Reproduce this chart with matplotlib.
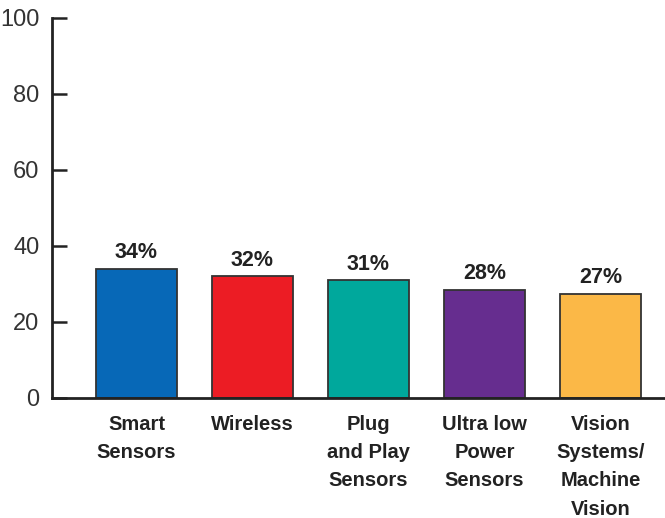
import numpy as np
import matplotlib.pyplot as plt

plt.rcParams['font.family'] = ['Liberation Sans', 'DejaVu Sans']

categories = ['Smart\nSensors', 'Wireless', 'Plug\nand Play\nSensors',
              'Ultra low\nPower\nSensors', 'Vision\nSystems/\nMachine\nVision']
values = [34, 32, 31, 28.5, 27.5]
value_labels = ['34%', '32%', '31%', '28%', '27%']
colors = ['#0768b7', '#ec1c24', '#00a89c', '#662d8f', '#fbb847']

fig = plt.figure(figsize=(6.65, 5.18), dpi=100)
ax = fig.add_axes([52/665, 120/518, 1 - 52/665, 380/518])

x = np.arange(len(categories))
bars = ax.bar(x, values, width=0.7, color=colors, edgecolor='#333333', linewidth=1.3)

for b, lab in zip(bars, value_labels):
    ax.text(b.get_x() + b.get_width()/2, b.get_height() + 2.8, lab,
            ha='center', va='baseline', fontsize=15.5, fontweight='bold',
            color='#222222')

ax.set_xlim(-0.728, 4.556)
ax.set_ylim(0, 100)
ax.set_yticks([0, 20, 40, 60, 80, 100])
ax.set_xticks(x)
ax.set_xticklabels(categories, fontsize=14.5, fontweight='bold', color='#222222',
                   linespacing=1.62, va='top')

ax.tick_params(axis='y', direction='in', length=11, width=1.8, color='#222222',
               labelsize=17, labelcolor='#333333', pad=9)
ax.tick_params(axis='x', length=0, pad=12)

for s in ['top', 'right']:
    ax.spines[s].set_visible(False)
for s in ['left', 'bottom']:
    ax.spines[s].set_linewidth(2)
    ax.spines[s].set_color('#222222')

plt.savefig('out.png', dpi=100)
